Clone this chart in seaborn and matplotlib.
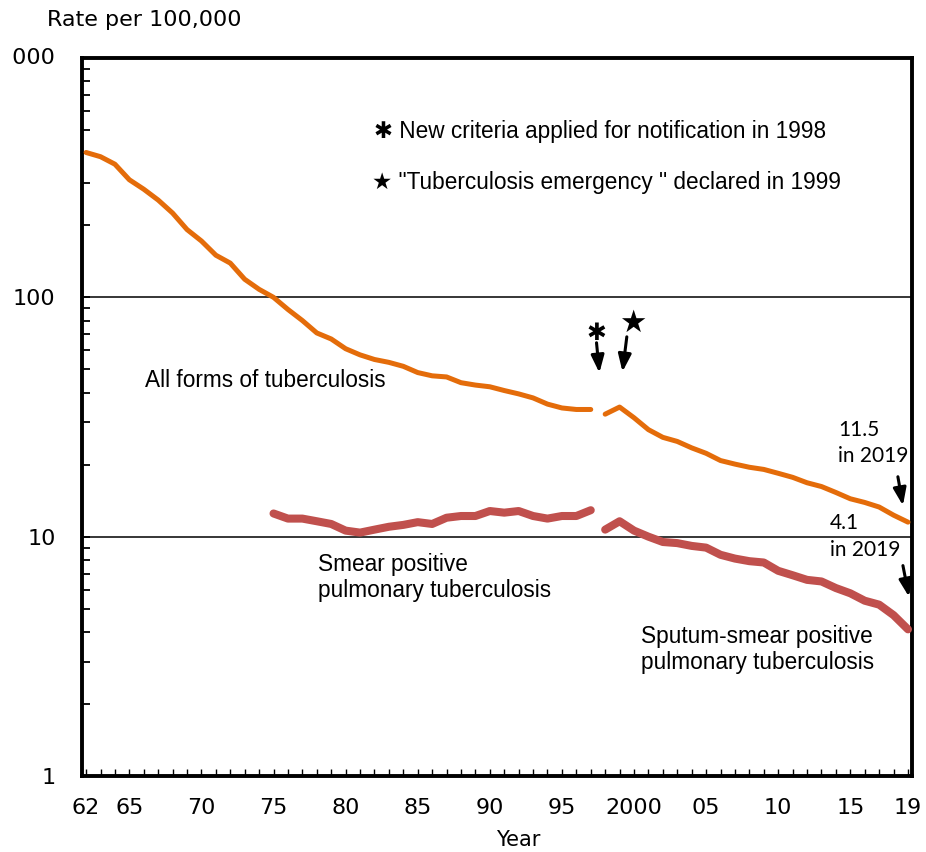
import matplotlib
matplotlib.use('Agg')
from matplotlib import pyplot as plt
from matplotlib.ticker import FixedLocator, FixedFormatter, LogLocator, NullFormatter
from matplotlib.transforms import Bbox, TransformedBbox
import pandas as pd
import seaborn as sns

# all forms of tuberculosis, old criteria (1962-1997) and new criteria (1998-2019)
years_old = list(range(1962, 1998))
all_forms_old = [403, 387, 360, 310, 283, 255, 225, 192, 172, 150, 139, 119, 108, 100,
                 89, 80, 71, 67, 61, 57.5, 55, 53.5, 51.5, 48.5, 47, 46.5, 44, 43,
                 42.3, 40.8, 39.5, 38, 35.8, 34.5, 34, 34]
years_new = list(range(1998, 2020))
all_forms_new = [32.5, 34.8, 31.4, 28.0, 26.0, 25.0, 23.5, 22.3, 20.8, 20.1, 19.5,
                 19.1, 18.4, 17.7, 16.8, 16.2, 15.3, 14.4, 13.9, 13.3, 12.3, 11.5]

# smear positive (1975-1997) and sputum-smear positive (1998-2019)
years_smear = list(range(1975, 1998))
smear_pos = [12.5, 11.9, 11.9, 11.6, 11.3, 10.6, 10.4, 10.7, 11.0, 11.2, 11.5, 11.3,
             12.0, 12.2, 12.2, 12.8, 12.6, 12.8, 12.2, 11.9, 12.2, 12.2, 12.9]
sputum_pos = [10.7, 11.6, 10.6, 10.0, 9.5, 9.4, 9.15, 9.0, 8.4, 8.1, 7.9, 7.8, 7.2,
              6.9, 6.6, 6.5, 6.1, 5.8, 5.4, 5.2, 4.7, 4.1]

label_years = [1962, 1965, 1970, 1975, 1980, 1985, 1990, 1995, 2000, 2005, 2010, 2015, 2019]
label_text = ['62', '65', '70', '75', '80', '85', '90', '95', '2000', '05', '10', '15', '19']

ORANGE = '#E46C0A'
RED = '#C0504D'

sns.set_theme(style='white')
plt.rcParams['font.family'] = ['DejaVu Sans']
plt.rcParams['text.color'] = 'black'

fig = plt.figure(figsize=(9.26, 8.52), dpi=100)
ax = fig.add_axes([0.0886, 0.0892, 0.8963, 0.8427])

segments = [
    (years_old, all_forms_old, ORANGE, 3.6),
    (years_new, all_forms_new, ORANGE, 3.6),
    (years_smear, smear_pos, RED, 5.8),
    (years_new, sputum_pos, RED, 5.8),
]
for xs, ys, col, lw in segments:
    d = pd.DataFrame({'year': xs, 'rate': ys})
    sns.lineplot(data=d, x='year', y='rate', ax=ax, color=col, lw=lw,
                 solid_capstyle='round', solid_joinstyle='round', zorder=3)

ax.set_yscale('log')
ax.set_ylim(1, 1000)
ax.set_xlim(1961.72, 2019.28)
ax.axhline(10, color='black', lw=1.1, zorder=1)
ax.axhline(100, color='black', lw=1.1, zorder=1)

for s in ax.spines.values():
    s.set_visible(True)
    s.set_color('black')
    s.set_linewidth(2.8)

ax.yaxis.set_major_locator(FixedLocator([1, 10, 100, 1000]))
ax.yaxis.set_major_formatter(FixedFormatter(['1', '10', '100', '']))
ax.yaxis.set_minor_locator(LogLocator(base=10, subs=range(2, 10)))
ax.yaxis.set_minor_formatter(NullFormatter())
ax.tick_params(axis='y', which='both', direction='in', left=True, right=False,
               length=6, width=1.3, colors='black', labelsize=16, pad=19)

all_years = list(range(1962, 2020))
ax.xaxis.set_major_locator(FixedLocator(all_years))
ax.xaxis.set_major_formatter(FixedFormatter(
    [label_text[label_years.index(y)] if y in label_years else '' for y in all_years]))
ax.tick_params(axis='x', which='both', direction='in', bottom=True, top=False,
               length=5, width=1, colors='black', labelsize=16, pad=16)
ax.set_xlabel('')
ax.set_ylabel('')

# 1000 label, its leading digit cut at the figure edge as in the source
t1000 = fig.text(55 / 926, 1 - 58 / 852, '1000', ha='right', va='center', fontsize=16)
t1000.set_clip_box(TransformedBbox(Bbox([[12 / 926, 0], [0.09, 1]]), fig.transFigure))
t1000.set_clip_on(True)

fig.text(47 / 926, 1 - 20 / 852, 'Rate per 100,000', ha='left', va='center', fontsize=16)
fig.text(518 / 926, 1 - 840 / 852, 'Year', ha='center', va='center', fontsize=15)

sans = ['Liberation Sans', 'DejaVu Sans']
ax.text(1982.0, 491, '\u2731 New criteria applied for notification in 1998',
        family=sans, fontsize=16.3, va='center', ha='left')
ax.text(1981.8, 303, '\u2605 "Tuberculosis emergency " declared in 1999',
        family=sans, fontsize=16.3, va='center', ha='left')
ax.text(1966.1, 44.8, 'All forms of tuberculosis', family=sans, fontsize=16.3,
        va='center', ha='left')
ax.text(1978.1, 6.77, 'Smear positive\npulmonary tuberculosis', family=sans, fontsize=16.3,
        va='center', ha='left', linespacing=1.15)
ax.text(2000.5, 3.37, 'Sputum-smear positive\npulmonary tuberculosis', family=sans,
        fontsize=16.3, va='center', ha='left', linespacing=1.15)

note_font = ['Lato', 'DejaVu Sans']
ax.text(2014.15, 24.6, '11.5\nin 2019', family=note_font, fontsize=15,
        va='center', ha='left', linespacing=1.4)
ax.text(2013.6, 10.0, '4.1\nin 2019', family=note_font, fontsize=15,
        va='center', ha='left', linespacing=1.4)

ax.text(1997.4, 71, '\u2731', family=['DejaVu Sans'], fontsize=17, fontweight='bold',
        ha='center', va='center')
ax.text(1999.9, 78, '\u2605', family=['DejaVu Sans'], fontsize=22, ha='center', va='center')

arrow = dict(arrowstyle='-|>,head_length=0.8,head_width=0.3', color='black', lw=2.2,
             mutation_scale=13, shrinkA=0, shrinkB=0)
ax.annotate('', xy=(1997.6, 48.4), xytext=(1997.4, 64.6), arrowprops=arrow)
ax.annotate('', xy=(1999.2, 48.9), xytext=(1999.5, 68.4), arrowprops=arrow)
ax.annotate('', xy=(2018.65, 13.5), xytext=(2018.3, 17.8), arrowprops=arrow)
ax.annotate('', xy=(2019.07, 5.61), xytext=(2018.65, 7.57), arrowprops=arrow)

fig.savefig('out.png', dpi=100, facecolor='white')
